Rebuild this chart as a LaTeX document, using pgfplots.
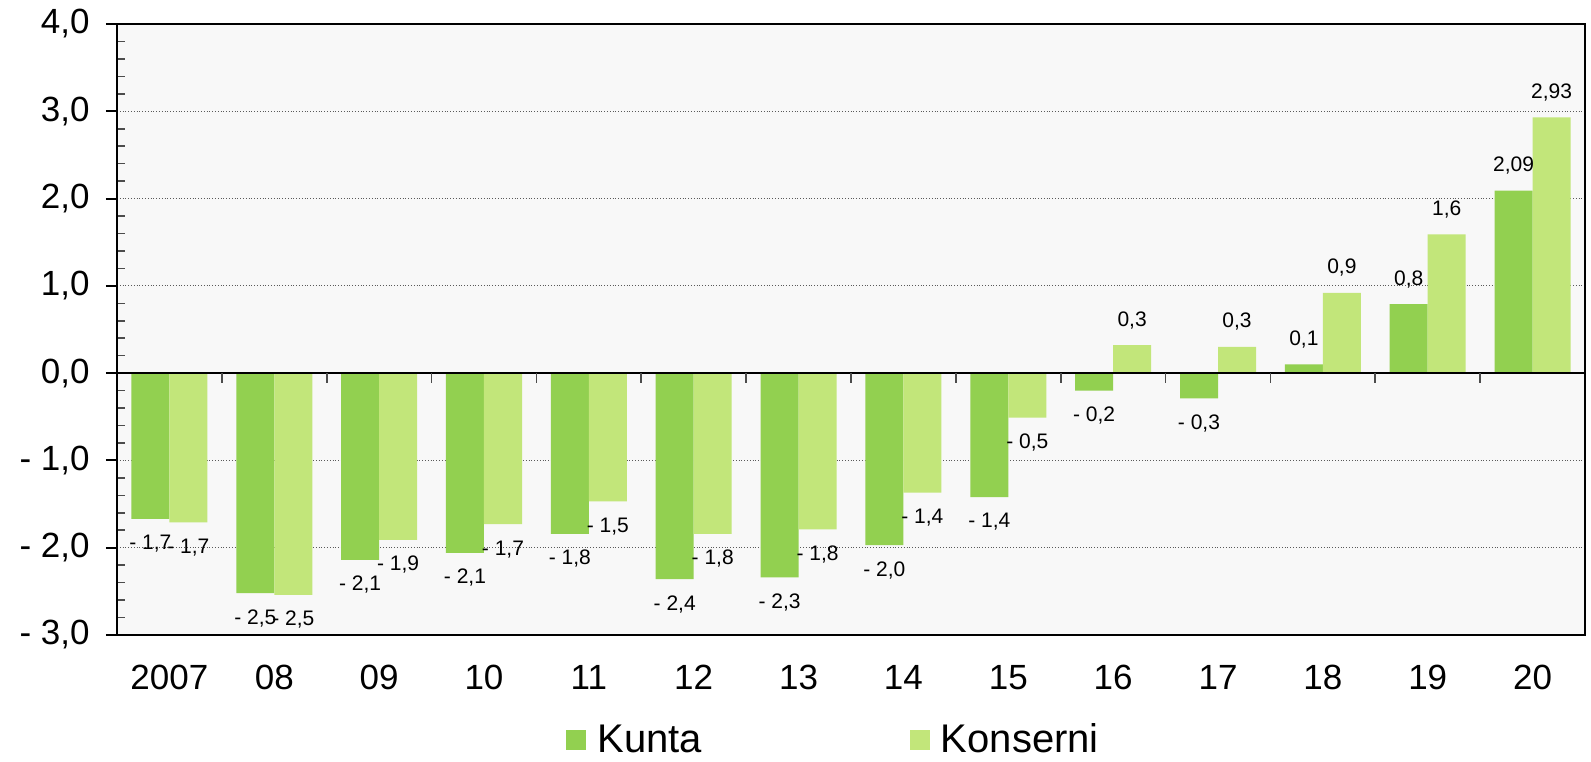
\documentclass[border=0pt]{standalone}
\usepackage{fontspec}
\setmainfont{Liberation Sans}
\usepackage{pgfplots}
\pgfplotsset{compat=1.18}
\definecolor{kunta}{RGB}{146,208,80}
\definecolor{konserni}{RGB}{194,230,122}
\definecolor{plotbg}{RGB}{248,248,248}
\definecolor{gridc}{RGB}{90,90,90}
\pgfplotsset{sqleg/.style={legend image code/.code={\fill[##1] (0pt,-5pt) rectangle (10pt,5pt);}}}
\begin{document}
\begin{tikzpicture}
\useasboundingbox (-58.5pt,-63pt) rectangle (737pt,317.5pt);
\begin{axis}[
  at={(0,0)}, anchor=south west,
  scale only axis, width=734pt, height=305.5pt,
  xmin=-0.5, xmax=13.5, ymin=-3, ymax=4,
  ybar=0pt, bar width=19pt,
  axis background/.style={fill=plotbg},
  axis line style={black, line width=1pt},
  tick align=outside, tick pos=left,
  xtick={0,...,13},
  xticklabels={2007,08,09,10,11,12,13,14,15,16,17,18,19,20},
  x tick style={draw=none},
  xticklabel style={font=\fontsize{17.5}{20}\selectfont, inner sep=0pt, anchor=north, yshift=-9.5pt},
  ytick={-3,...,4},
  yticklabels={{- 3,0},{- 2,0},{- 1,0},{0,0},{1,0},{2,0},{3,0},{4,0}},
  yticklabel style={font=\fontsize{17.5}{20}\selectfont, inner sep=0pt, anchor=east, xshift=-8pt},
  major tick length=5.5pt, minor tick length=4pt,
  minor y tick num=4,
  minor y tick style={xshift=4pt, line width=0.8pt, black!70},
  major y tick style={line width=1pt, black},
  ymajorgrids,
  major grid style={densely dotted, gridc, line width=0.6pt},
  nodes near coords,
  point meta=explicit symbolic,
  visualization depends on={rawy \as \rawy},
  every node near coord/.append style={font=\fontsize{10.5}{12}\selectfont, anchor=center, inner sep=0pt, yshift={\rawy>0 ? 12.5pt : -12.5pt}},
  legend columns=2,
  legend style={draw=none, fill=none, at={(axis description cs:0.3059,-0.1715)}, anchor=west, inner sep=0pt,
    font=\fontsize{20}{23}\selectfont,
    nodes={inner sep=0pt},
    /tikz/every odd column/.append style={column sep=5.5pt},
    /tikz/every even column/.append style={column sep=104pt}},
]
\addplot[fill=kunta, draw=none, sqleg]
coordinates {
(0,-1.67) [{- 1,7}]
(1,-2.52) [{- 2,5}]
(2,-2.14) [{- 2,1}]
(3,-2.06) [{- 2,1}]
(4,-1.84) [{- 1,8}]
(5,-2.36) [{- 2,4}]
(6,-2.34) [{- 2,3}]
(7,-1.97) [{- 2,0}]
(8,-1.42) [{- 1,4}]
(9,-0.20) [{- 0,2}]
(10,-0.29) [{- 0,3}]
(11,0.10) [{0,1}]
(12,0.79) [{0,8}]
(13,2.09) [{2,09}]
};
\addlegendentry{Kunta}
\addplot[fill=konserni, draw=none, sqleg]
coordinates {
(0,-1.71) [{- 1,7}]
(1,-2.54) [{- 2,5}]
(2,-1.91) [{- 1,9}]
(3,-1.73) [{- 1,7}]
(4,-1.47) [{- 1,5}]
(5,-1.84) [{- 1,8}]
(6,-1.79) [{- 1,8}]
(7,-1.37) [{- 1,4}]
(8,-0.51) [{- 0,5}]
(9,0.32) [{0,3}]
(10,0.30) [{0,3}]
(11,0.92) [{0,9}]
(12,1.59) [{1,6}]
(13,2.93) [{2,93}]
};
\addlegendentry{Konserni}
\draw[black, line width=1pt] (axis cs:-0.5,0) -- (axis cs:13.5,0);
\pgfplotsinvokeforeach{0.5,1.5,2.5,3.5,4.5,5.5,6.5,7.5,8.5,9.5,10.5,11.5,12.5}{
  \draw[black!70, line width=0.8pt] (axis cs:#1,0) -- (axis cs:#1,-0.115);
}
\end{axis}
\end{tikzpicture}
\end{document}
